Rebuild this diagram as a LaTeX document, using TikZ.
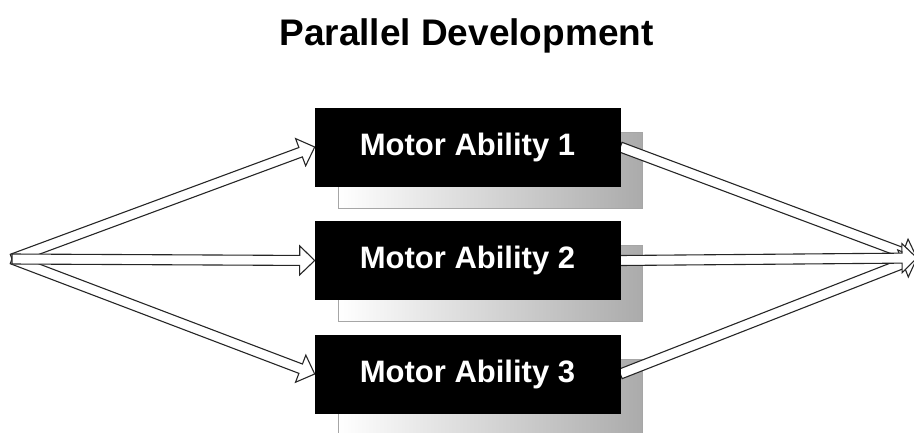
\documentclass[tikz,border=0pt]{standalone}
\usepackage{fontspec}
\setmainfont{Liberation Sans}
\usetikzlibrary{calc}

\pgfdeclarelayer{shadows}
\pgfdeclarelayer{arrows}
\pgfsetlayers{shadows,arrows,main}

\tikzset{
  motorbox/.style={fill=black, draw=black, line width=0.6pt, text=white,
    font=\bfseries\fontsize{31}{31}\selectfont,
    minimum width=305pt, minimum height=78pt, inner sep=0pt},
  boxshadow/.style={draw=black!35, line width=0.8pt, left color=white,
    right color=black!33, minimum width=304pt, minimum height=76pt, inner sep=0pt},
  arrowline/.style={draw=black!85, fill=white, line width=1.1pt, line join=miter},
  titletext/.style={font=\bfseries\fontsize{37}{37}\selectfont, anchor=base},
}

% hollow block arrow from #1 to #2: thin shaft, wide flat head
\newcommand\hollowarrow[2]{%
  \path (#1) coordinate (ha s) (#2) coordinate (ha t);
  \path ($(ha t)!15pt!(ha s)$) coordinate (ha h);
  \filldraw[arrowline]
    ($(ha s)!5pt!90:(ha t)$) -- ($(ha h)!5pt!90:(ha t)$)
    -- ($(ha h)!14.5pt!90:(ha t)$) -- (ha t)
    -- ($(ha h)!14.5pt!-90:(ha t)$) -- ($(ha h)!5pt!-90:(ha t)$)
    -- ($(ha s)!5pt!-90:(ha t)$) -- cycle;
}

\begin{document}
\begin{tikzpicture}[x=1pt,y=-1pt]
  \useasboundingbox (0,0) rectangle (914,432);
  \clip (0,0) rectangle (914,432);

  \node[titletext] (title) at (466.5,45) {Parallel Development};

  \node[motorbox] (m1) at (467.5,147) {Motor Ability 1};
  \node[motorbox] (m2) at (467.5,260.5) {Motor Ability 2};
  \node[motorbox] (m3) at (467.5,374) {Motor Ability 3};

  % gradient shadows behind the boxes
  \begin{pgfonlayer}{shadows}
    \node[boxshadow] (s1) at ([shift={(22.5,23)}]m1.center) {};
    \node[boxshadow] (s2) at ([shift={(22.5,23)}]m2.center) {};
    \node[boxshadow] (s3) at ([shift={(22.5,23)}]m3.center) {};
  \end{pgfonlayer}

  % common source and sink points
  \coordinate (src) at (12,259);
  \coordinate (sink) at (917,258);

  \begin{pgfonlayer}{arrows}
    \hollowarrow{src}{m1.west}
    \hollowarrow{src}{m3.west}
    \hollowarrow{src}{m2.west}
    \hollowarrow{m1.east}{sink}
    \hollowarrow{m3.east}{sink}
    \hollowarrow{m2.east}{sink}
  \end{pgfonlayer}
\end{tikzpicture}
\end{document}
